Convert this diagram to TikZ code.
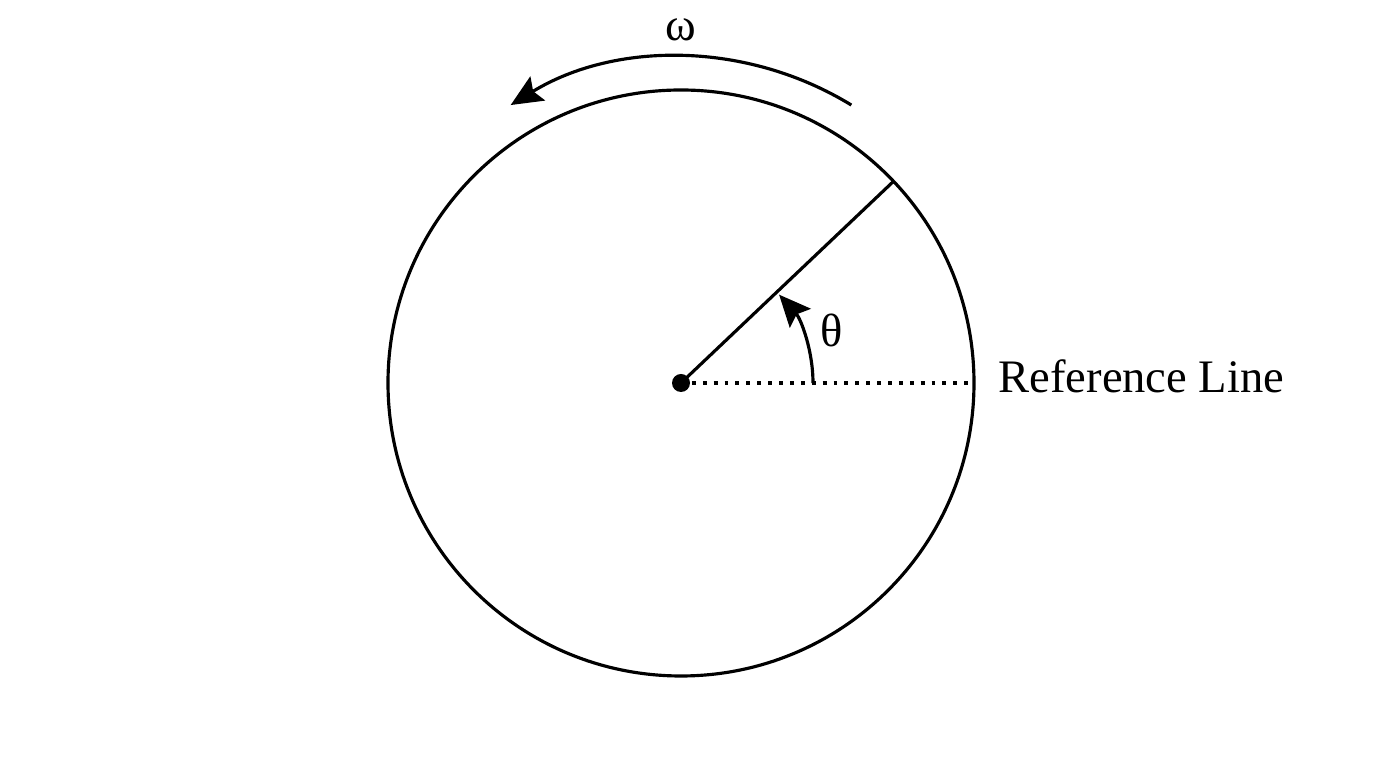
\documentclass[tikz,border=0pt]{standalone}
\usepackage{fontspec}
\setmainfont{Liberation Serif}
\usetikzlibrary{arrows.meta,calc}

\begin{document}
\begin{tikzpicture}[line width=0.9pt,
   lbl/.style={font=\fontsize{13.25}{16}\selectfont,inner sep=0pt},
   rot/.style={-{Stealth[length=9pt,width=8pt,inset=1.5pt]}}]
   \useasboundingbox (0,0) rectangle (13.76,7.68);
   \coordinate (O) at (6.81,3.85);
   \coordinate (P) at ($(O)+(43.5:2.93)$);
   \coordinate (R) at ($(O)+(0:2.93)$);
   \node[circle,draw,minimum size=5.86cm,inner sep=0pt] (wheel) at (O) {};
   \draw (O) -- (P);
   \draw[dotted,line width=1.1pt] (O) -- (R);
   \fill (O) circle (0.09);
   % angle and rotation
   \draw[rot] ($(O)+(0:1.32)$) arc (0:42:1.32);
   \draw[rot] ($(O)+(58.5:3.26)$) arc (58.5:121.5:3.26);
   \node[lbl] (theta) at (8.32,4.38) {θ};
   \node[lbl] (omega) at (6.81,7.38) {ω};
   \node[lbl,anchor=base west] (ref) at (9.97,3.75) {Reference Line};
\end{tikzpicture}
\end{document}
